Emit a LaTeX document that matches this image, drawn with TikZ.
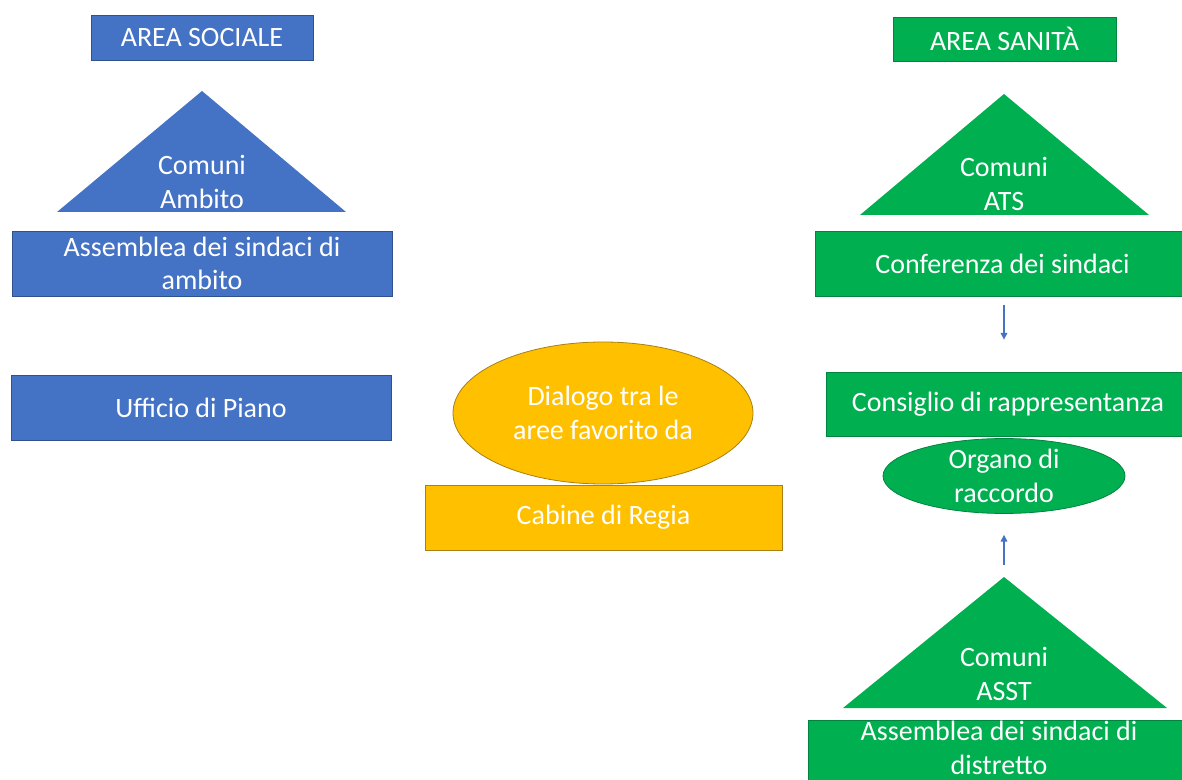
\documentclass[tikz,border=0pt]{standalone}
\usepackage{fontspec}
\setmainfont{Carlito}
\usetikzlibrary{calc, arrows.meta, shapes.geometric}
\definecolor{socblue}{RGB}{68, 114, 196}
\definecolor{socbluedark}{RGB}{47, 82, 143}
\definecolor{sangreen}{RGB}{0, 176, 80}
\definecolor{sangreendark}{RGB}{0, 132, 62}
\definecolor{regiagold}{RGB}{255, 192, 0}
\definecolor{regiagolddark}{RGB}{168, 128, 20}

\begin{document}
\begin{tikzpicture}[x=0.75pt, y=-0.75pt,
    testo/.style={text=white, font=\fontsize{21}{25}\selectfont, align=center, inner sep=0pt},
    misura/.style 2 args={minimum width=#1*0.75pt, minimum height=#2*0.75pt},
    box/.style={testo, rectangle, line width=0.6pt},
    bluebox/.style={box, fill=socblue, draw=socbluedark},
    greenbox/.style={box, fill=sangreen, draw=sangreendark},
    goldbox/.style={box, fill=regiagold, draw=regiagolddark},
    freccia/.style={draw=socblue, line width=0.8pt, -{Triangle[length=5pt, width=5pt]}}
]
\useasboundingbox (0,0) rectangle (1182,780);

% === Colonna sinistra: area sociale ===
\begin{scope}
    \node[bluebox, misura={222}{45}] (sociale) at (202, 38) {AREA SOCIALE};

    % Triangolo dei comuni
    \coordinate (ambapex) at (202, 91);
    \coordinate (ambleft) at (57, 212);
    \coordinate (ambright) at (346, 212);
    \fill[socblue] (ambapex) -- (ambleft) -- (ambright) -- cycle;
    \node[testo] (ambtxt) at (202, 182) {Comuni\\Ambito};

    \node[bluebox, misura={380}{65}] (assamb) at (202, 263.5) {Assemblea dei sindaci di\\ambito};
    \node[bluebox, misura={380}{65}] (ufficio) at (201, 407.5) {Ufficio di Piano};
\end{scope}

% === Centro: cabine di regia ===
\begin{scope}
    \node[goldbox, ellipse, misura={300}{142}] (dialogo) at (603, 413) {Dialogo tra le\\aree favorito da};
    \node[goldbox, misura={357}{65}] (cabine) at (603.5, 517.5) {Cabine di Regia};
\end{scope}

% === Colonna destra: area sanita ===
\begin{scope}
    \node[greenbox, misura={223}{44}] (sanita) at (1004.5, 39) {AREA SANITÀ};

    % Triangolo ATS
    \coordinate (atsapex) at (1004, 94);
    \coordinate (atsleft) at (860, 215);
    \coordinate (atsright) at (1149, 215);
    \fill[sangreen] (atsapex) -- (atsleft) -- (atsright) -- cycle;
    \node[testo] (atstxt) at (1004, 184) {Comuni\\ATS};

    \node[greenbox, misura={375}{65}] (conf) at (1002.5, 263.5) {Conferenza dei sindaci};
    \node[greenbox, misura={364}{64}] (cons) at (1008, 404) {Consiglio di rappresentanza};
    \node[greenbox, ellipse, misura={242}{72}] (organo) at (1004, 476) {Organo di\\raccordo};

    % Triangolo ASST
    \coordinate (asstapex) at (1004, 577);
    \coordinate (asstleft) at (843, 708);
    \coordinate (asstright) at (1167, 708);
    \fill[sangreen] (asstapex) -- (asstleft) -- (asstright) -- cycle;
    \node[testo] (assttxt) at (1004, 674) {Comuni\\ASST};

    \node[greenbox, misura={382}{65}] (distr) at (999, 752.5) {};
    \node[testo] (distrtxt) at (999, 748) {Assemblea dei sindaci di\\distretto};

    % Frecce verso l'organo di raccordo
    \draw[freccia] ($(conf.south -| organo.center)+(0,9)$) -- ($(cons.north -| organo.center)+(0,-32)$);
    \draw[freccia] ($(asstapex)+(0,-12)$) -- ($(organo.south)+(0,21)$);
\end{scope}

\end{tikzpicture}
\end{document}
